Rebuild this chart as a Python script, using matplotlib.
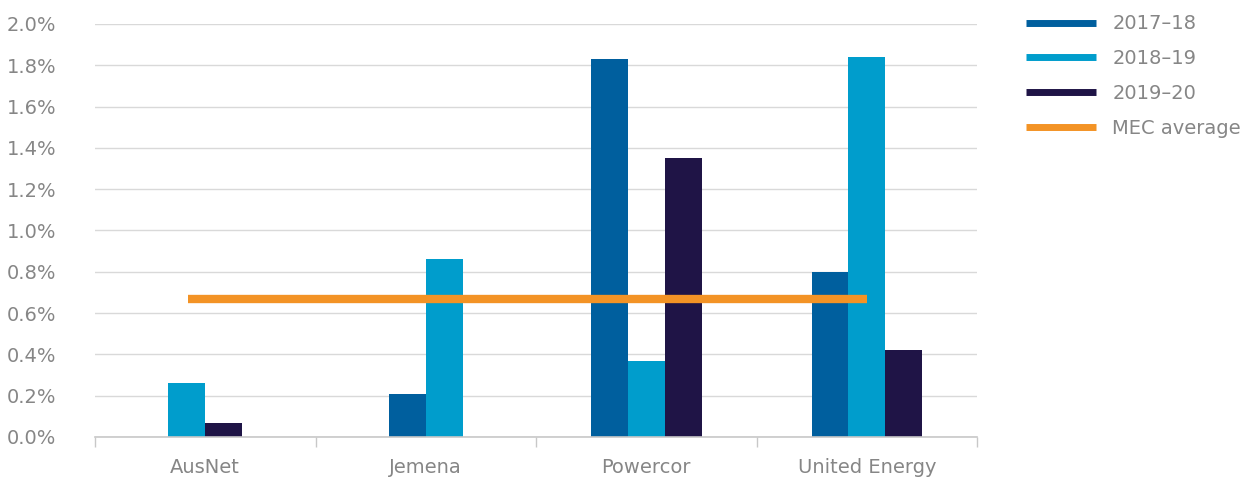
import matplotlib.pyplot as plt
from matplotlib.lines import Line2D
import numpy as np

plt.rcParams['font.family'] = ['DejaVu Sans']

companies = ['AusNet', 'Jemena', 'Powercor', 'United Energy']
years = ['2017–18', '2018–19', '2019–20']
# None = no value reported for that year
v_2017_18 = [None, 0.21, 1.83, 0.80]
v_2018_19 = [0.26, 0.86, 0.37, 1.84]
v_2019_20 = [0.07, None, 1.35, 0.42]
mec_average = 0.67

colours = ['#005f9e', '#009dcc', '#1f1446']
orange = '#f39325'
grey = '#868686'
fs = 14

fig = plt.figure(figsize=(12.53, 4.79), dpi=100)
ax = fig.add_axes([0.0758, 0.0877, 0.704, 0.8623])

series = [v_2017_18, v_2018_19, v_2019_20]
w = 0.167
# bars in each group are centred on the values that exist
for g in range(len(companies)):
    present = [i for i in range(3) if series[i][g] is not None]
    n = len(present)
    for k, i in enumerate(present):
        ax.bar(g + (k - (n - 1) / 2) * w, series[i][g], width=w,
               color=colours[i], zorder=2)

# MEC average line
ax.hlines(mec_average, -0.08, 3.0, color=orange, linewidth=6, zorder=3)

ax.set_xlim(-0.5, 3.5)
ax.set_ylim(0, 2.0)
yt = np.arange(0, 2.01, 0.2)
ax.set_yticks(yt)
ax.set_yticklabels(['{:.1f}%'.format(v) for v in yt])
ax.set_xticks(np.arange(len(companies)))
ax.set_xticklabels(companies)
ax.set_xticks(np.arange(-0.5, 3.6, 1.0), minor=True)

ax.grid(axis='y', color='#d9d9d9', linewidth=1, zorder=0)
for s in ['top', 'right', 'left']:
    ax.spines[s].set_visible(False)
ax.spines['bottom'].set_color('#c8c8c8')
ax.spines['bottom'].set_linewidth(1.2)

ax.tick_params(axis='y', length=0, pad=28, labelsize=fs, labelcolor=grey)
ax.tick_params(axis='x', which='major', length=0, pad=15, labelsize=fs, labelcolor=grey)
ax.tick_params(axis='x', which='minor', length=7, width=1, color='#c8c8c8')

handles = [Line2D([0], [0], color=c, linewidth=5, solid_capstyle='butt') for c in colours]
handles.append(Line2D([0], [0], color=orange, linewidth=5, solid_capstyle='butt'))
leg = fig.legend(handles, years + ['MEC average'], loc='upper left',
                 bbox_to_anchor=(0.819, 0.970), frameon=False, fontsize=fs,
                 borderpad=0, borderaxespad=0,
                 handlelength=3.6, handletextpad=0.82, labelspacing=0.81)
for t in leg.get_texts():
    t.set_color(grey)

fig.savefig('out.png', dpi=100)
